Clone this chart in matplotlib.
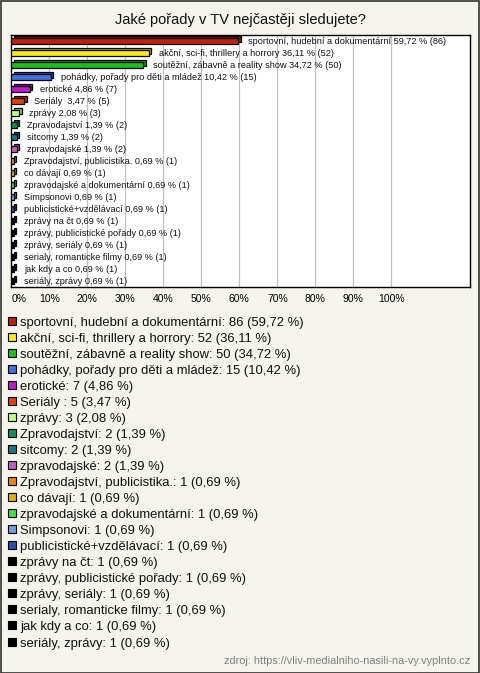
import matplotlib
matplotlib.use("Agg")
import matplotlib.pyplot as plt
from matplotlib.patches import Rectangle
from matplotlib.transforms import ScaledTranslation
import matplotlib.colors as mcolors

plt.rcParams['font.family'] = ['Liberation Sans', 'DejaVu Sans']

title = "Jaké pořady v TV nejčastěji sledujete?"
categories = [
    "sportovní, hudební a dokumentární",
    "akční, sci-fi, thrillery a horrory",
    "soutěžní, zábavně a reality show",
    "pohádky, pořady pro děti a mládež",
    "erotické",
    "Seriály ",
    "zprávy",
    "Zpravodajství",
    "sitcomy",
    "zpravodajské",
    "Zpravodajství, publicistika.",
    "co dávají",
    "zpravodajské a dokumentární",
    "Simpsonovi",
    "publicistické+vzdělávací",
    "zprávy na čt",
    "zprávy, publicistické pořady",
    "zprávy, seriály",
    "serialy, romanticke filmy",
    "jak kdy a co",
    "seriály, zprávy",
]
counts = [86, 52, 50, 15, 7, 5, 3, 2, 2, 2, 1, 1, 1, 1, 1, 1, 1, 1, 1, 1, 1]
percents = [59.72, 36.11, 34.72, 10.42, 4.86, 3.47, 2.08, 1.39, 1.39, 1.39,
            0.69, 0.69, 0.69, 0.69, 0.69, 0.69, 0.69, 0.69, 0.69, 0.69, 0.69]
colors = ["#c0200c", "#f8e81a", "#18c018", "#4070e0", "#c018d0", "#e04010",
          "#c0ff80", "#109060", "#187888", "#c060c0", "#f08010", "#e0b000",
          "#40e040", "#70a0e0", "#2850b0", "#000000", "#000000", "#000000",
          "#000000", "#000000", "#000000"]
xticks = [0, 10, 20, 30, 40, 50, 60, 70, 80, 90, 100]
source = "zdroj: https://vliv-medialniho-nasili-na-vy.vyplnto.cz"


def pct_str(p):
    return f"{p:.2f}".replace(".", ",")


W, H = 480, 673
fig = plt.figure(figsize=(W / 100, H / 100), dpi=100)
bg = "#f4f3ec"
fig.patch.set_facecolor(bg)
fig.patches.append(Rectangle((0.5 / W, 0.5 / H), 1 - 1.5 / W, 1 - 1.5 / H,
                             transform=fig.transFigure, fill=False,
                             edgecolor="#333333", linewidth=1.2))


def fx(px):
    return px / W


def fy(py):
    return 1 - py / H


ax = fig.add_axes([fx(11.3), fy(287), fx(470) - fx(11.3), fy(35) - fy(287)])
ax.set_facecolor("white")
n = len(categories)
ax.set_xlim(0, 120.7)
ax.set_ylim(n - 0.5, -0.5)
for t in xticks[1:]:
    ax.axvline(t, color="#c0c0c0", linewidth=0.9, zorder=0)

bh = 0.42
off = ScaledTranslation(0.025, 0.02, fig.dpi_scale_trans)
for i, (p, c) in enumerate(zip(percents, colors)):
    dark = [v * 0.75 for v in mcolors.to_rgb(c)]
    ax.barh(i, p, height=bh, color=dark, edgecolor="black", linewidth=0.9,
            transform=ax.transData + off, zorder=2)
    ax.barh(i, p, height=bh, color=c, edgecolor="black", linewidth=0.9, zorder=3)
    lbl = f"{categories[i]} {pct_str(p)} % ({counts[i]})"
    ax.annotate(lbl, (p, i), xytext=(7.2, 0), textcoords="offset points",
                va="center", ha="left", fontsize=6.6, color="#111111", zorder=4)

ax.set_yticks([])
ax.set_xticks(xticks)
ax.set_xticklabels([f"{t}%" for t in xticks], fontsize=7.5)
ax.tick_params(axis="x", length=0, pad=5)
ax.get_xticklabels()[0].set_horizontalalignment("left")
for s in ax.spines.values():
    s.set_color("black")
    s.set_linewidth(1.0)

fig.text(0.5, fy(20), title, ha="center", va="center", fontsize=10.5,
         color="#111111")

# legend
y0, dy = 322, 16.05
for i, (cat, c, k, p) in enumerate(zip(categories, colors, counts, percents)):
    y = y0 + i * dy
    fig.patches.append(Rectangle((fx(8), fy(y + 2.5)), fx(8), 8 / H,
                                 transform=fig.transFigure, facecolor=c,
                                 edgecolor="black", linewidth=0.8))
    txt = f"{cat}: {k} ({pct_str(p)} %)"
    fig.text(fx(20), fy(y + 3.5), txt, ha="left", va="baseline", fontsize=9.4,
             color="#111111")

fig.text(fx(470), fy(661), source, ha="right", va="center", fontsize=7.8,
         color="#808080")

fig.savefig("out.png", dpi=100, facecolor=bg)
